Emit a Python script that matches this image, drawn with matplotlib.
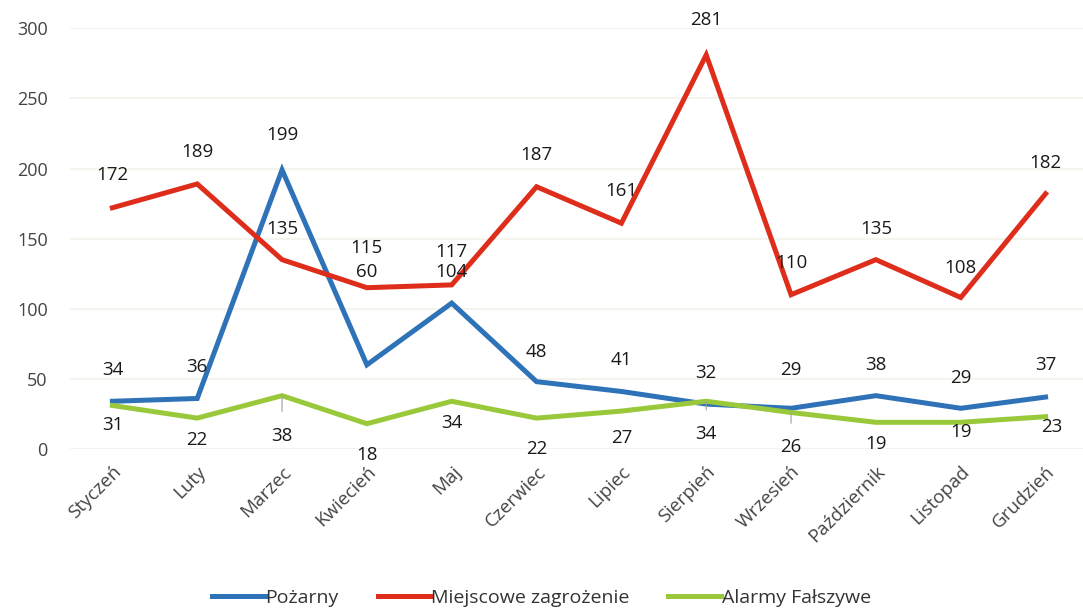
import numpy as np
import matplotlib as mpl
mpl.use('Agg')
import matplotlib.pyplot as plt

plt.rcParams['font.family'] = ['Open Sans', 'DejaVu Sans']

#=========================================================================
# Data
#=========================================================================
months = ['Styczeń', 'Luty', 'Marzec', 'Kwiecień', 'Maj', 'Czerwiec',
          'Lipiec', 'Sierpień', 'Wrzesień', 'Październik', 'Listopad',
          'Grudzień']
pozarny = [34, 36, 199, 60, 104, 48, 41, 32, 29, 38, 29, 37]
miejscowe = [172, 189, 135, 115, 117, 187, 161, 281, 110, 135, 108, 182]
falszywe = [31, 22, 38, 18, 34, 22, 27, 34, 26, 19, 19, 23]

# label offsets (pixels) as placed in the original
off_blue = [31, 31, 35, 93, 31, 30, 31, 31, 38, 31, 30, 32]
off_red = [33, 32, 31, 40, 33, 32, 32, 35, 32, 31, 30, 31]
off_green = [20, 22, 40, 31, 22, 31, 27, 33, 35, 22, 10, 10]
leader_green = [False, False, True, False, False, False, False, True, True,
                False, False, False]

c_blue = '#2E72B8'
c_red = '#DE2D1B'
c_green = '#99C93A'

#=========================================================================
# Plot
#=========================================================================
fig = plt.figure(figsize=(10.83, 6.15), dpi=100)
ax = fig.add_axes([0.0646, 0.27, 0.94, 0.684])
x = np.arange(len(months))

ax.plot(x, pozarny, color=c_blue, lw=3.6, label='Pożarny', solid_joinstyle='miter')
ax.plot(x, miejscowe, color=c_red, lw=3.6, label='Miejscowe zagrożenie', solid_joinstyle='miter')
ax.plot(x, falszywe, color=c_green, lw=3.6, label='Alarmy Fałszywe', solid_joinstyle='miter')

px = 0.72
fs = 13.5
for i in range(len(x)):
    ax.annotate(str(pozarny[i]), (x[i], pozarny[i]), xytext=(0, off_blue[i] * px),
                textcoords='offset points', ha='center', va='center', fontsize=fs,
                color='#1a1a1a')
    ax.annotate(str(miejscowe[i]), (x[i], miejscowe[i]), xytext=(0, off_red[i] * px),
                textcoords='offset points', ha='center', va='center', fontsize=fs,
                color='#1a1a1a')
    dx = 6 * px if i == len(x) - 1 else 0
    if leader_green[i]:
        ax.annotate(str(falszywe[i]), (x[i], falszywe[i]), xytext=(dx, -off_green[i] * px),
                    textcoords='offset points', ha='center', va='center', fontsize=fs,
                    color='#1a1a1a',
                    arrowprops=dict(arrowstyle='-', color='#a0a0a0', lw=0.8,
                                    shrinkA=9, shrinkB=0))
    else:
        ax.annotate(str(falszywe[i]), (x[i], falszywe[i]), xytext=(dx, -off_green[i] * px),
                    textcoords='offset points', ha='center', va='center', fontsize=fs,
                    color='#1a1a1a')

ax.set_xlim(-0.5, 11.5)
ax.set_ylim(0, 300)
ax.set_yticks(np.arange(0, 301, 50))
ax.yaxis.grid(True, color='#F2F2EA', lw=1.2)
ax.set_axisbelow(True)
for s in ax.spines.values():
    s.set_visible(False)
ax.tick_params(axis='both', length=0, labelsize=13, labelcolor='#444444')
ax.tick_params(axis='y', pad=16)
ax.set_xticks(x)
ax.set_xticklabels(months, rotation=45, ha='right', rotation_mode='anchor')
ax.tick_params(axis='x', pad=10, labelsize=13.5)

fig.legend(loc='lower center', bbox_to_anchor=(0.5, -0.015), ncol=3, frameon=False,
           fontsize=14, handlelength=2.7, handletextpad=0.05, columnspacing=2.0,
           labelcolor='#333333')

plt.savefig('out.png', dpi=100)
